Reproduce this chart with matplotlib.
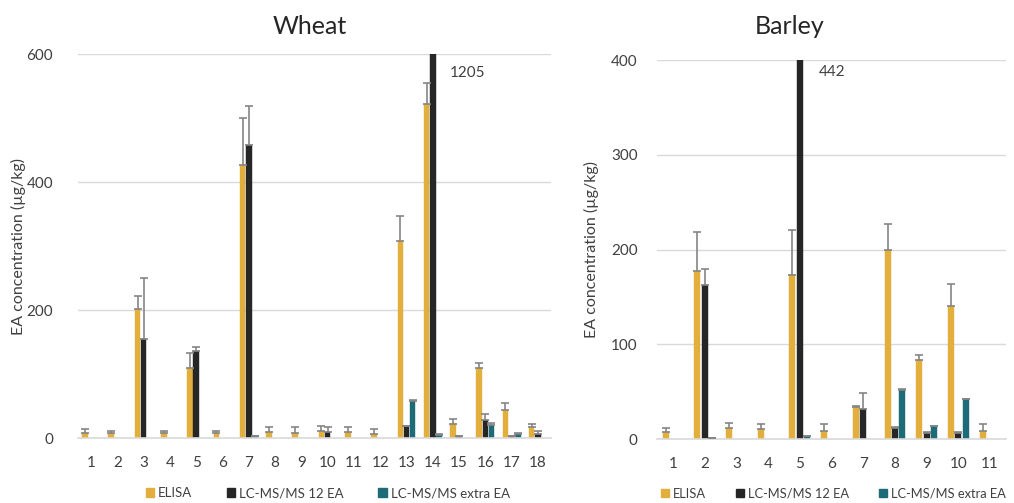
import numpy as np
import matplotlib
matplotlib.use("Agg")
import matplotlib.pyplot as plt
from matplotlib.patches import Patch

plt.rcParams['font.family'] = ['Lato', 'DejaVu Sans']

nan = np.nan

# ---------------- Wheat ----------------
wheat_cats = [str(i) for i in range(1, 19)]
wheat_elisa = [9, 8, 202, 8, 110, 8, 427, 10, 9, 12, 10, 7, 309, 523, 22, 110, 44, 17]
wheat_elisa_err = [6, 4, 20, 4, 23, 4, 73, 7, 8, 7, 7, 8, 39, 32, 8, 8, 11, 5]
wheat_lc12 = [nan, nan, 155, nan, 136, nan, 458, nan, nan, 10, nan, nan, 19, 1205, 3, 28, 3, 7]
wheat_lc12_err = [nan, nan, 95, nan, 7, nan, 61, nan, nan, 7, nan, nan, 1, 0, 0, 10, 0, 5]
wheat_extra = [nan, nan, nan, nan, nan, nan, 3, nan, nan, nan, nan, nan, 58, 5, nan, 21, 7, nan]
wheat_extra_err = [nan, nan, nan, nan, nan, nan, 0, nan, nan, nan, nan, nan, 2, 1, nan, 3, 1.5, nan]
wheat_label = "1205"

# ---------------- Barley ----------------
barley_cats = [str(i) for i in range(1, 12)]
barley_elisa = [7.4, 177, 12, 10.6, 173, 8.8, 34, 200, 84, 141, 8.8]
barley_elisa_err = [5, 42, 5.5, 5.5, 48, 7, 1, 27, 4.5, 23, 7]
barley_lc12 = [nan, 163, nan, nan, 442, nan, 32, 12, 7, 7, nan]
barley_lc12_err = [nan, 17, nan, nan, 0, nan, 17, 1, 0.5, 0.5, nan]
barley_extra = [nan, 1, nan, nan, 3, nan, nan, 52, 14, 42, nan]
barley_extra_err = [nan, 0, nan, nan, 1, nan, nan, 1, 0.5, 1, nan]
barley_label = "442"

series_names = ["ELISA", "LC-MS/MS 12 EA", "LC-MS/MS extra EA"]
colors = ["#E2AE3C", "#262626", "#1D6B76"]
grid_c = "#D9D9D9"
text_c = "#404040"

fig = plt.figure(figsize=(10.14, 5.03), dpi=100)
W, H = 1014, 503


def px_axes(x0, x1, y_top, y_bot):
    return fig.add_axes([x0 / W, 1 - y_bot / H, (x1 - x0) / W, (y_bot - y_top) / H])


def draw(ax, cats, data, errs, ymax, yticks, width, offset, ypad, leg_x, leg_fs, leg_cs):
    n = len(cats)
    x = np.arange(1, n + 1)
    for k, (vals, err) in enumerate(zip(data, errs)):
        vals = np.array(vals, dtype=float)
        err = np.array(err, dtype=float)
        pos = x + (k - 1) * offset
        ax.bar(pos, vals, width=width, color=colors[k], edgecolor=colors[k],
               linewidth=0.3, zorder=2, clip_on=True)
        m = ~np.isnan(vals) & ~np.isnan(err)
        lower = np.zeros(m.sum())
        ax.errorbar(pos[m], vals[m], yerr=[lower, err[m]], fmt='none',
                    ecolor="#858585", elinewidth=1.2, capsize=3.2, capthick=1.2,
                    zorder=3, clip_on=True)
    ax.set_xlim(0.5, n + 0.5)
    ax.set_ylim(0, ymax)
    ax.set_xticks(x)
    ax.set_xticklabels(cats)
    ax.set_yticks(yticks)
    ax.tick_params(axis='both', length=0, labelsize=11, colors=text_c)
    ax.tick_params(axis='y', pad=ypad)
    ax.tick_params(axis='x', pad=13)
    ax.yaxis.grid(True, color=grid_c, linewidth=1.0, zorder=0)
    ax.set_axisbelow(True)
    for s in ['left', 'right', 'top']:
        ax.spines[s].set_visible(False)
    ax.spines['bottom'].set_color(grid_c)
    ax.spines['bottom'].set_linewidth(1.2)
    ax.set_ylabel("EA concentration (µg/kg)", fontsize=11.5, color=text_c)
    handles = [Patch(facecolor=c, edgecolor=c) for c in colors]
    ax.legend(handles, series_names, loc='center', bbox_to_anchor=(leg_x, -0.143),
              ncol=3, frameon=False, fontsize=leg_fs, handlelength=0.65, handleheight=0.65,
              handletextpad=0.3, columnspacing=leg_cs, labelcolor=text_c)


ax1 = px_axes(78, 551, 54.3, 438.3)
draw(ax1, wheat_cats, [wheat_elisa, wheat_lc12, wheat_extra],
     [wheat_elisa_err, wheat_lc12_err, wheat_extra_err], 600, [0, 200, 400, 600],
     0.21, 0.235, 18, 0.528, 9.5, 2.6)
ax1.text(14.65, 571, wheat_label, ha='left', va='center', fontsize=11, color=text_c)
ax1.yaxis.set_label_coords(-0.11, 0.5)

ax2 = px_axes(657, 1006, 60, 439.3)
draw(ax2, barley_cats, [barley_elisa, barley_lc12, barley_extra],
     [barley_elisa_err, barley_lc12_err, barley_extra_err], 400, [0, 100, 200, 300, 400],
     0.19, 0.23, 14, 0.505, 9.3, 2.3)
ax2.text(5.59, 387, barley_label, ha='left', va='center', fontsize=11, color=text_c)
ax2.yaxis.set_label_coords(-0.166, 0.5)

fig.text(310 / W, 1 - 27 / H, "Wheat", ha='center', va='center', fontsize=18, color="#262626")
fig.text(790 / W, 1 - 27 / H, "Barley", ha='center', va='center', fontsize=18, color="#262626")

fig.savefig("out.png", dpi=100)
